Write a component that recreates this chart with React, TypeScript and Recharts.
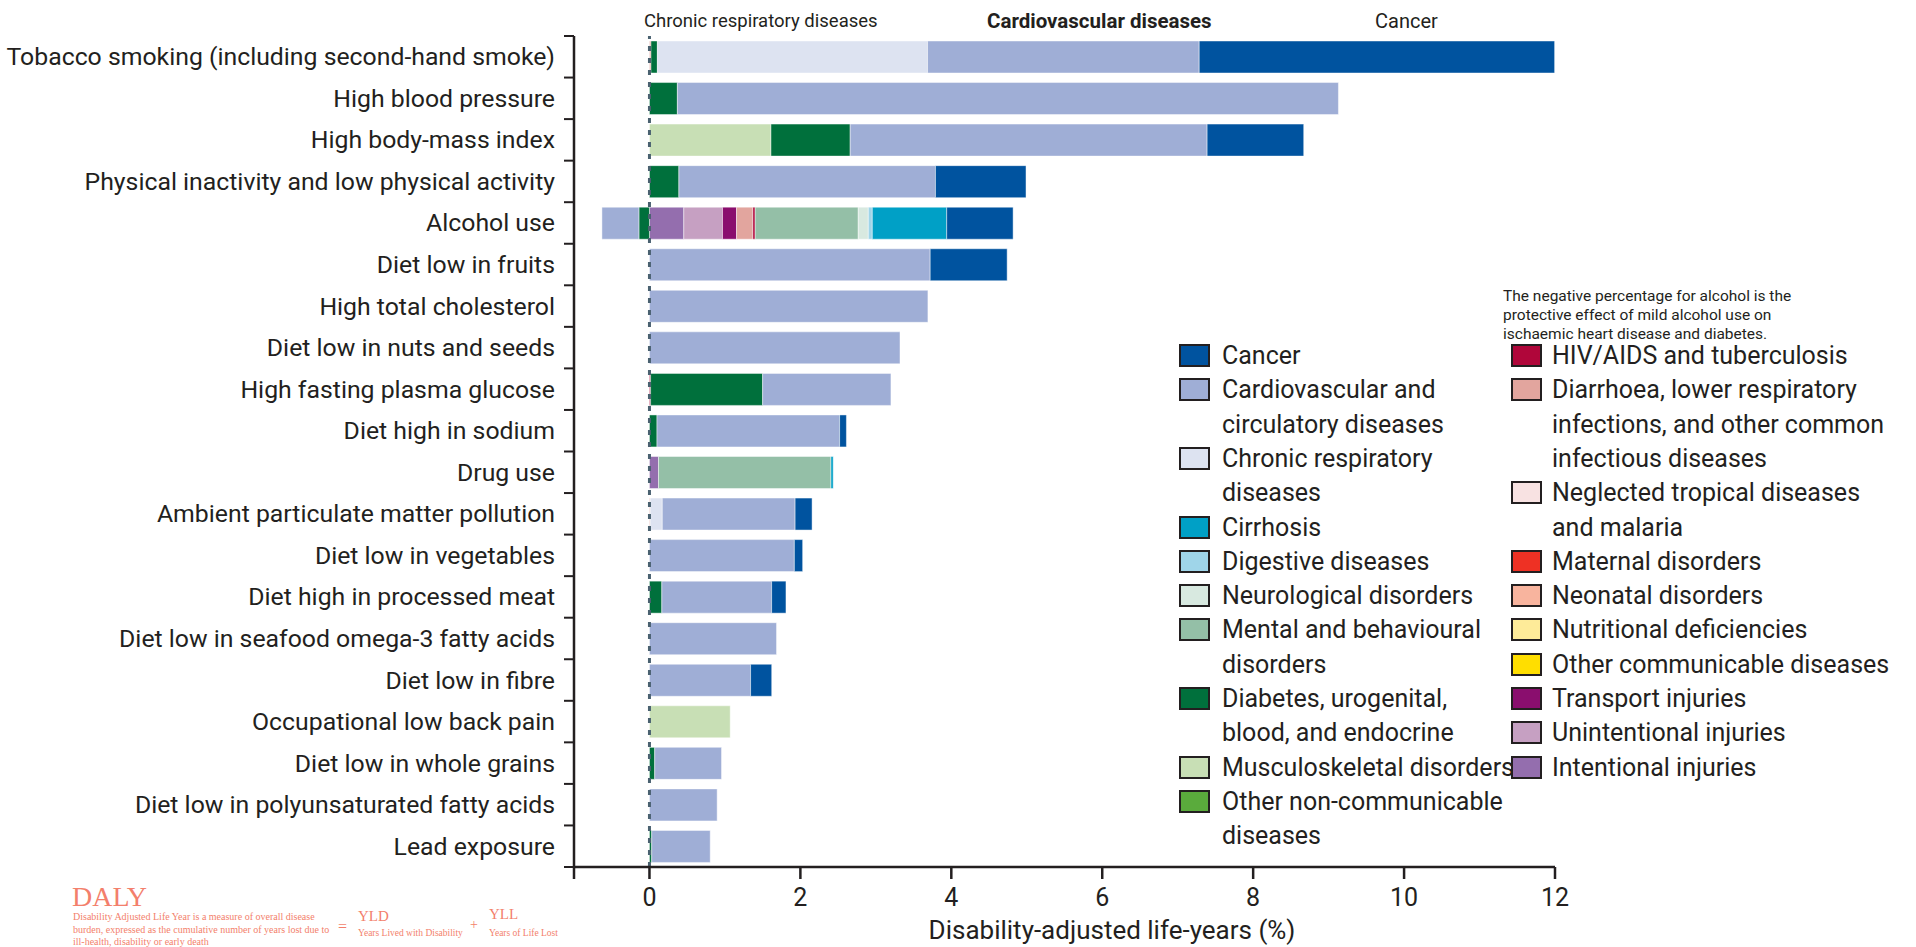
import React from 'react';
import { BarChart, Bar, XAxis, YAxis, ReferenceLine } from 'recharts';

const categories = [
  'Tobacco smoking (including second-hand smoke)',
  'High blood pressure',
  'High body-mass index',
  'Physical inactivity and low physical activity',
  'Alcohol use',
  'Diet low in fruits',
  'High total cholesterol',
  'Diet low in nuts and seeds',
  'High fasting plasma glucose',
  'Diet high in sodium',
  'Drug use',
  'Ambient particulate matter pollution',
  'Diet low in vegetables',
  'Diet high in processed meat',
  'Diet low in seafood omega-3 fatty acids',
  'Diet low in fibre',
  'Occupational low back pain',
  'Diet low in whole grains',
  'Diet low in polyunsaturated fatty acids',
  'Lead exposure',
];

const cancer = [4.71, 0, 1.28, 1.2, 0.88, 1.02, 0, 0, 0, 0.09, 0, 0.225, 0.11, 0.19, 0, 0.28, 0, 0, 0, 0];
const cardiovascular = [3.6, 8.76, 4.73, 3.4, -0.49, 3.72, 3.69, 3.32, 1.7, 2.42, 0, 1.76, 1.92, 1.455, 1.684, 1.34, 0, 0.885, 0.897, 0.775];
const chronicRespiratory = [3.58, 0, 0, 0, 0, 0, 0, 0, 0, 0, 0, 0.16, 0, 0, 0, 0, 0, 0, 0, 0];
const cirrhosis = [0, 0, 0, 0, 0.986, 0, 0, 0, 0, 0, 0.03, 0, 0, 0, 0, 0, 0, 0, 0, 0];
const digestive = [0, 0, 0, 0, 0.053, 0, 0, 0, 0, 0, 0, 0, 0, 0, 0, 0, 0, 0, 0, 0];
const neurological = [0, 0, 0, 0, 0.133, 0, 0, 0, 0, 0, 0, 0, 0, 0, 0, 0, 0, 0, 0, 0];
const mental = [0, 0, 0, 0, 1.366, 0, 0, 0, 0, 0, 2.285, 0, 0, 0, 0, 0, 0, 0, 0, 0];
const diabetes = [0.085, 0.37, 1.05, 0.39, -0.14, 0, 0, 0, 1.485, 0.1, 0, 0, 0, 0.164, 0, 0, 0, 0.07, 0, 0.03];
const musculoskeletal = [0, 0, 1.61, 0, 0, 0, 0, 0, 0, 0, 0, 0, 0, 0, 0, 0, 1.07, 0, 0, 0];
const otherNonCommunicable = [0, 0, 0, 0, 0, 0, 0, 0, 0, 0, 0, 0, 0, 0, 0, 0, 0, 0, 0, 0];
const hivTb = [0, 0, 0, 0, 0.031, 0, 0, 0, 0.015, 0, 0, 0, 0, 0, 0, 0, 0, 0, 0, 0];
const diarrhoea = [0.02, 0, 0, 0, 0.216, 0, 0, 0, 0, 0, 0, 0.01, 0, 0, 0, 0, 0, 0, 0, 0];
const neglectedTropical = [0, 0, 0, 0, 0, 0, 0, 0, 0, 0, 0, 0, 0, 0, 0, 0, 0, 0, 0, 0];
const maternal = [0, 0, 0, 0, 0, 0, 0, 0, 0, 0, 0, 0, 0, 0, 0, 0, 0, 0, 0, 0];
const neonatal = [0, 0, 0, 0, 0, 0, 0, 0, 0, 0, 0, 0, 0, 0, 0, 0, 0, 0, 0, 0];
const nutritional = [0, 0, 0, 0, 0, 0, 0, 0, 0, 0, 0, 0, 0, 0, 0, 0, 0, 0, 0, 0];
const otherCommunicable = [0, 0, 0, 0, 0, 0, 0, 0, 0, 0, 0, 0, 0, 0, 0, 0, 0, 0, 0, 0];
const transport = [0, 0, 0, 0, 0.186, 0, 0, 0, 0, 0, 0, 0, 0, 0, 0, 0, 0, 0, 0, 0];
const unintentional = [0, 0, 0, 0, 0.513, 0, 0, 0, 0, 0, 0, 0, 0, 0, 0, 0, 0, 0, 0, 0];
const intentional = [0, 0, 0, 0, 0.455, 0, 0, 0, 0, 0, 0.12, 0, 0, 0, 0, 0, 0, 0, 0, 0];

const xTicks = [-1, 0, 2, 4, 6, 8, 10, 12];

type Series = { key: string; label: string[]; color: string; values: number[] };

const S: Record<string, Series> = {
  cancer: { key: 'cancer', label: ['Cancer'], color: '#00539f', values: cancer },
  cvd: { key: 'cvd', label: ['Cardiovascular and', 'circulatory diseases'], color: '#9faed6', values: cardiovascular },
  chronic: { key: 'chronic', label: ['Chronic respiratory', 'diseases'], color: '#dde3f1', values: chronicRespiratory },
  cirrhosis: { key: 'cirrhosis', label: ['Cirrhosis'], color: '#00a0c6', values: cirrhosis },
  digestive: { key: 'digestive', label: ['Digestive diseases'], color: '#9fd5e9', values: digestive },
  neuro: { key: 'neuro', label: ['Neurological disorders'], color: '#d8e9e0', values: neurological },
  mental: { key: 'mental', label: ['Mental and behavioural', 'disorders'], color: '#94bfa7', values: mental },
  diabetes: { key: 'diabetes', label: ['Diabetes, urogenital,', 'blood, and endocrine'], color: '#00703c', values: diabetes },
  musculo: { key: 'musculo', label: ['Musculoskeletal disorders'], color: '#c8dfb5', values: musculoskeletal },
  otherNcd: { key: 'otherNcd', label: ['Other non-communicable', 'diseases'], color: '#5aab3c', values: otherNonCommunicable },
  hiv: { key: 'hiv', label: ['HIV/AIDS and tuberculosis'], color: '#b0063a', values: hivTb },
  diarrhoea: { key: 'diarrhoea', label: ['Diarrhoea, lower respiratory', 'infections, and other common', 'infectious diseases'], color: '#e2a59e', values: diarrhoea },
  ntd: { key: 'ntd', label: ['Neglected tropical diseases', 'and malaria'], color: '#f8e2e2', values: neglectedTropical },
  maternal: { key: 'maternal', label: ['Maternal disorders'], color: '#ee3124', values: maternal },
  neonatal: { key: 'neonatal', label: ['Neonatal disorders'], color: '#f8b49e', values: neonatal },
  nutritional: { key: 'nutritional', label: ['Nutritional deficiencies'], color: '#feeb99', values: nutritional },
  otherComm: { key: 'otherComm', label: ['Other communicable diseases'], color: '#ffde00', values: otherCommunicable },
  transport: { key: 'transport', label: ['Transport injuries'], color: '#8a0e6e', values: transport },
  unintentional: { key: 'unintentional', label: ['Unintentional injuries'], color: '#c6a0c2', values: unintentional },
  intentional: { key: 'intentional', label: ['Intentional injuries'], color: '#946eae', values: intentional },
};

const stackOrder = ['intentional', 'unintentional', 'transport', 'diarrhoea', 'hiv', 'ntd', 'maternal', 'neonatal', 'nutritional', 'otherComm', 'mental', 'neuro', 'digestive', 'cirrhosis', 'musculo', 'otherNcd', 'diabetes', 'chronic', 'cvd', 'cancer'];
const legendLeft = ['cancer', 'cvd', 'chronic', 'cirrhosis', 'digestive', 'neuro', 'mental', 'diabetes', 'musculo', 'otherNcd'];
const legendRight = ['hiv', 'diarrhoea', 'ntd', 'maternal', 'neonatal', 'nutritional', 'otherComm', 'transport', 'unintentional', 'intentional'];

const data = categories.map((name, i) => {
  const row: Record<string, any> = { name };
  stackOrder.forEach((k) => { row[k] = S[k].values[i]; });
  return row;
});

const FONT = "Roboto, 'Noto Sans', sans-serif";
const SERIF = "'Liberation Serif', 'DejaVu Serif', serif";
const INK = '#231f20';
const SALMON = '#f37f6c';

const W = 1916;
const H = 947;
const TOP = 36;
const PLOT_BOTTOM = 867;
const XAXIS_H = 40;
const Y_W = 574;
const RIGHT = 361;
const BAND = (PLOT_BOTTOM - TOP) / categories.length;

const YTick = (props: any) => {
  const { y, payload, index } = props;
  const ax = Y_W;
  return (
    <g>
      <line x1={ax - 10} x2={ax} y1={y - BAND / 2} y2={y - BAND / 2} stroke={INK} strokeWidth={2} />
      {index === categories.length - 1 && (
        <line x1={ax - 10} x2={ax} y1={y + BAND / 2} y2={y + BAND / 2} stroke={INK} strokeWidth={2} />
      )}
      <text x={ax - 19} y={y} textAnchor="end" dominantBaseline="central" fontFamily={FONT} fontSize={24.8} fill={INK}>
        {payload.value}
      </text>
    </g>
  );
};

const Txt = ({ x, y, size, children, bold, font, color, lh, anchor }: any) => {
  const h = lh || size * 1.3;
  return (
    <div
      style={{
        position: 'absolute',
        left: x,
        top: y - h / 2,
        transform: anchor === 'middle' ? 'translateX(-50%)' : undefined,
        fontFamily: font || FONT,
        fontSize: size,
        lineHeight: `${h}px`,
        fontWeight: bold ? 700 : 400,
        color: color || INK,
        whiteSpace: 'nowrap',
      }}
    >
      {children}
    </div>
  );
};

const LEG_Y0 = 356;
const LEG_LH = 34.3;

const LegendColumn = ({ keys, sx, tx }: { keys: string[]; sx: number; tx: number }) => {
  let line = 0;
  const out: any[] = [];
  keys.forEach((k) => {
    const s = S[k];
    const cy = LEG_Y0 + line * LEG_LH;
    out.push(
      <div
        key={k + '-sw'}
        style={{
          position: 'absolute',
          left: sx,
          top: cy - 12,
          width: 27,
          height: 19,
          background: s.color,
          border: `2.5px solid ${INK}`,
        }}
      />
    );
    s.label.forEach((t, j) => {
      out.push(
        <Txt key={k + j} x={tx} y={LEG_Y0 + (line + j) * LEG_LH} size={25} lh={26}>
          {t}
        </Txt>
      );
    });
    line += s.label.length;
  });
  return <>{out}</>;
};

export default function App() {
  return (
    <div style={{ position: 'absolute', left: 0, top: 0, width: W, height: H, background: '#fff', overflow: 'hidden' }}>
      <BarChart
        width={W}
        height={H}
        data={data}
        layout="vertical"
        stackOffset="sign"
        margin={{ top: TOP, right: RIGHT, bottom: H - PLOT_BOTTOM - XAXIS_H, left: 0 }}
        barSize={32}
      >
        <XAxis
          type="number"
          domain={[-1, 12]}
          ticks={xTicks}
          interval={0}
          height={XAXIS_H}
          axisLine={{ stroke: INK, strokeWidth: 2.5 }}
          tickLine={{ stroke: INK, strokeWidth: 2.5 }}
          tickSize={12}
          tickMargin={9}
          tick={{ fontFamily: FONT, fontSize: 25, fill: INK }}
          tickFormatter={(v: number) => (v < 0 ? '' : String(v))}
          allowDataOverflow
        />
        <YAxis
          type="category"
          dataKey="name"
          width={Y_W}
          interval={0}
          tickLine={false}
          axisLine={{ stroke: INK, strokeWidth: 2.5 }}
          tick={<YTick />}
        />
        {stackOrder.map((k) => (
          <Bar
            key={k}
            dataKey={k}
            stackId="a"
            fill={S[k].color}
            stroke="#ffffff"
            strokeOpacity={0.45}
            strokeWidth={1}
            isAnimationActive={false}
          />
        ))}
        <ReferenceLine x={0} stroke="#4a6170" strokeWidth={3} strokeDasharray="5 7" />
      </BarChart>

      <Txt x={644} y={21} size={18.5}>Chronic respiratory diseases</Txt>
      <Txt x={987} y={21} size={20.5} bold>Cardiovascular diseases</Txt>
      <Txt x={1375} y={21} size={20}>Cancer</Txt>

      <Txt x={1503} y={296} size={15.5} lh={19}>The negative percentage for alcohol is the</Txt>
      <Txt x={1503} y={315.5} size={15.5} lh={19}>protective effect of mild alcohol use on</Txt>
      <Txt x={1503} y={334.5} size={15.5} lh={19}>ischaemic heart disease and diabetes.</Txt>

      <LegendColumn keys={legendLeft} sx={1179} tx={1222} />
      <LegendColumn keys={legendRight} sx={1511} tx={1552} />

      <Txt x={1112} y={931} size={26} anchor="middle">Disability-adjusted life-years (%)</Txt>

      <Txt x={72} y={897} size={28} font={SERIF} color={SALMON} lh={28}>DALY</Txt>
      <Txt x={73} y={916} size={10} font={SERIF} color={SALMON} lh={13}>Disability Adjusted Life Year is a measure of overall disease</Txt>
      <Txt x={73} y={929.5} size={10} font={SERIF} color={SALMON} lh={13}>burden, expressed as the cumulative number of years lost due to</Txt>
      <Txt x={73} y={942} size={10} font={SERIF} color={SALMON} lh={12}>ill-health, disability or early death</Txt>
      <Txt x={338} y={927} size={16} font={SERIF} color={SALMON} lh={18}>=</Txt>
      <Txt x={358} y={916} size={15} font={SERIF} color={SALMON} lh={18}>YLD</Txt>
      <Txt x={358} y={933} size={9.5} font={SERIF} color={SALMON} lh={13}>Years Lived with Disability</Txt>
      <Txt x={470} y={925} size={14} font={SERIF} color={SALMON} lh={18}>+</Txt>
      <Txt x={489} y={914} size={15} font={SERIF} color={SALMON} lh={18}>YLL</Txt>
      <Txt x={489} y={933} size={9.5} font={SERIF} color={SALMON} lh={13}>Years of Life Lost</Txt>
    </div>
  );
}
